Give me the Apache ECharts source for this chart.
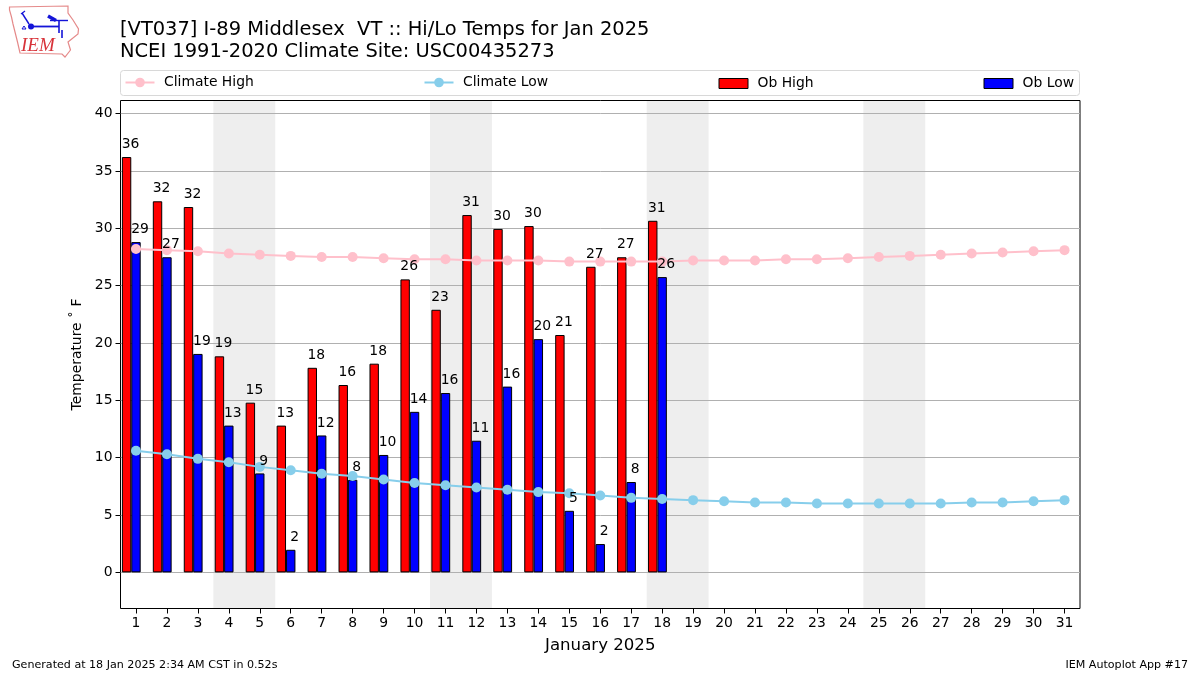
<!DOCTYPE html>
<html><head><meta charset="utf-8">
<style>html,body{margin:0;padding:0;background:#fff}#c{width:1200px;height:675px}</style>
<script src="https://cdn.jsdelivr.net/npm/echarts@6/dist/echarts.min.js"></script>
</head><body><div id="c"></div>
<script>
const days = ['1','2','3','4','5','6','7','8','9','10','11','12','13','14','15','16','17','18','19','20','21','22','23','24','25','26','27','28','29','30','31'];
const obHigh = [36.22,32.36,31.86,18.84,14.8,12.8,17.84,16.34,18.2,25.55,22.9,31.16,29.95,30.2,20.7,26.65,27.48,30.66];
const obLow = [28.8,27.48,19.05,12.8,8.63,1.97,11.94,8.08,10.24,14.0,15.64,11.48,16.2,20.34,5.37,2.47,7.88,25.75];
const climateHigh = [28.2,28.1,28.0,27.8,27.7,27.6,27.5,27.5,27.4,27.3,27.3,27.2,27.2,27.2,27.1,27.1,27.1,27.1,27.2,27.2,27.2,27.3,27.3,27.4,27.5,27.6,27.7,27.8,27.9,28.0,28.1];
const climateLow = [10.6,10.3,9.9,9.6,9.2,8.9,8.6,8.4,8.1,7.8,7.6,7.4,7.2,7.0,6.9,6.7,6.5,6.4,6.3,6.2,6.1,6.1,6.0,6.0,6.0,6.0,6.0,6.1,6.1,6.2,6.3];
const weekends = [[3.5,5.5],[10.5,12.5],[17.5,19.5],[24.5,26.5]];
const yTicks = [0,5,10,15,20,25,30,35,40];

const FONT = 'DejaVu Sans';
const chart = echarts.init(document.getElementById('c'), null, {renderer:'canvas'});
const barWidth = 9.4;
const labelSeries = (name, data, dx) => ({
  name, type:'scatter', data, z:5, silent:true, symbol:'circle', symbolSize:1,
  itemStyle:{color:'transparent',opacity:1},
  label:{show:true, position:'top', distance:5, offset:[dx,0], color:'#000', fontFamily:FONT, fontSize:13.9,
    formatter:p=>Math.round(p.value)}
});
const legendBase = {orient:'horizontal', padding:0, itemWidth:29, itemGap:9, textStyle:{fontFamily:FONT,fontSize:13.9,color:'#000',padding:[0,0,0,4.5]}};
chart.setOption({
  animation:false,
  backgroundColor:'#fff',
  title:{text:'[VT037] I-89 Middlesex  VT :: Hi/Lo Temps for Jan 2025\nNCEI 1991-2020 Climate Site: USC00435273',
    left:120, top:19, padding:0, textStyle:{fontFamily:FONT,fontSize:19.44,fontWeight:'normal',color:'#000',lineHeight:22}},
  legend:[
    {...legendBase,left:124.5,top:75.5,itemHeight:12,data:['Climate High']},
    {...legendBase,left:423.5,top:75.5,itemHeight:12,data:['Climate Low']},
    {...legendBase,left:718.5,top:76.5,itemHeight:10,icon:'rect',itemStyle:{borderWidth:1,borderColor:'#000'},data:['Ob High']},
    {...legendBase,left:983.5,top:76.5,itemHeight:10,icon:'rect',itemStyle:{borderWidth:1,borderColor:'#000'},data:['Ob Low']}
  ],
  grid:{left:120.5,top:100.5,width:959.5,height:508,show:true,borderColor:'#000',borderWidth:1,backgroundColor:'transparent'},
  xAxis:[
    {type:'category',data:days,boundaryGap:true,
     name:'January 2025',nameLocation:'middle',nameGap:29,nameTextStyle:{fontFamily:FONT,fontSize:16.6,color:'#000'},
     axisLine:{show:true,onZero:false,lineStyle:{color:'transparent',width:1}},
     axisTick:{show:true,alignWithLabel:true,length:5,lineStyle:{color:'#000',width:1}},
     axisLabel:{interval:0,margin:8,fontFamily:FONT,fontSize:13.9,color:'#000'},splitLine:{show:false}},
    {type:'value',min:0.5,max:31.5,show:false}
  ],
  yAxis:{type:'value',min:-3.15,max:41.15,
    name:'Temperature ˚ F',nameLocation:'middle',nameGap:36,nameRotate:90,
    nameTextStyle:{fontFamily:FONT,fontSize:13.9,color:'#000'},
    axisLine:{show:true,lineStyle:{color:'transparent',width:1}},
    axisTick:{show:true,length:5,lineStyle:{color:'#000',width:1},customValues:yTicks},
    axisLabel:{margin:8,fontFamily:FONT,fontSize:13.9,color:'#000',customValues:yTicks,padding:[3,0,0,0]},
    splitLine:{show:true,lineStyle:{color:'#b0b0b0',width:1}}},
  series:[
    {name:'Weekend',type:'custom',xAxisIndex:1,yAxisIndex:0,z:-1,silent:true,data:weekends,
     encode:{x:[0,1]},clip:true,
     renderItem:(params,api)=>{
       const a=api.coord([api.value(0),0]), b=api.coord([api.value(1),0]), cs=params.coordSys;
       return {type:'rect',shape:{x:a[0],y:cs.y,width:b[0]-a[0],height:cs.height},style:{fill:'#eeeeee'}};
     }},
    {name:'Ob High',type:'bar',data:obHigh,barWidth,barGap:'0%',z:2,
     itemStyle:{color:'#ff0000',borderColor:'#000',borderWidth:1}},
    {name:'Ob Low',type:'bar',data:obLow,barWidth,barGap:'0%',z:2,
     itemStyle:{color:'#0000ff',borderColor:'#000',borderWidth:1}},
    {name:'Spacer',type:'bar',data:[],barWidth,barGap:'0%',silent:true},
    {name:'Climate High',type:'line',data:climateHigh,z:3,symbol:'circle',symbolSize:10,showSymbol:true,
     lineStyle:{color:'#ffc0cb',width:2},itemStyle:{color:'#ffc0cb'}},
    {name:'Climate Low',type:'line',data:climateLow,z:3,symbol:'circle',symbolSize:10,showSymbol:true,
     lineStyle:{color:'#87ceeb',width:2},itemStyle:{color:'#87ceeb'}},
    labelSeries('Ob High Labels',obHigh,4-barWidth),
    labelSeries('Ob Low Labels',obLow,4)
  ],
  graphic:[
    {type:'rect',shape:{x:120.5,y:70.5,width:959,height:25,r:3},style:{fill:'none',stroke:'#d8d8d8',lineWidth:1},z:0},
    {type:'text',left:12,top:660,style:{text:'Generated at 18 Jan 2025 2:34 AM CST in 0.52s',font:'11.1px "DejaVu Sans"',fill:'#000'}},
    {type:'text',right:12,top:660,style:{text:'IEM Autoplot App #17',font:'11.1px "DejaVu Sans"',fill:'#000'}},
    {type:'group',left:0,top:0,silent:true,bounding:'raw',children:[
      {type:'polygon',shape:{points:[[9.5,7],[68,6],[68,13],[73,20],[78.5,29],[78,34],[68,42],[70.5,50],[65,57],[62,54],[20,53],[17.5,42],[13,24],[11.5,17],[9.5,10]]},style:{fill:'none',stroke:'#e58a8a',lineWidth:1.2}},
      {type:'circle',shape:{cx:31,cy:26.5,r:3},style:{fill:'#1414d8'}},
      {type:'line',shape:{x1:31,y1:26.5,x2:59,y2:26.5},style:{stroke:'#1414d8',lineWidth:1.8}},
      {type:'line',shape:{x1:48,y1:16,x2:56,y2:20.5},style:{stroke:'#1414d8',lineWidth:3.5}},
      {type:'line',shape:{x1:50,y1:20.5,x2:68,y2:20.5},style:{stroke:'#1414d8',lineWidth:1.4}},
      {type:'line',shape:{x1:59,y1:20.5,x2:59,y2:33},style:{stroke:'#1414d8',lineWidth:1.6}},
      {type:'line',shape:{x1:62,y1:30,x2:62,y2:38},style:{stroke:'#1414d8',lineWidth:1.6}},
      {type:'line',shape:{x1:22,y1:13,x2:29,y2:24},style:{stroke:'#1414d8',lineWidth:1.4}},
      {type:'line',shape:{x1:21,y1:14,x2:25,y2:11},style:{stroke:'#1414d8',lineWidth:1.2}},
      {type:'polygon',shape:{points:[[24,26],[26,29],[22,29]]},style:{fill:'none',stroke:'#1414d8',lineWidth:1}},
      {type:'text',style:{x:21,y:36.5,text:'IEM',font:'italic 19px "Liberation Serif"',fill:'#d8333a'}}
    ]}
  ]
});
</script></body></html>
